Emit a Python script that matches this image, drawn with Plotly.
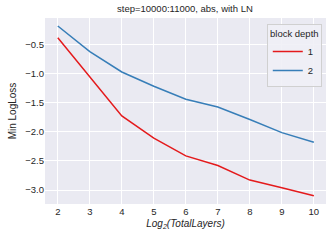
import plotly.graph_objects as go

x_vals = [2, 3, 4, 5, 6, 7, 8, 9, 10]
depth1 = [-0.387, -1.056, -1.73, -2.11, -2.415, -2.58, -2.83, -2.96, -3.10]
depth2 = [-0.186, -0.627, -0.975, -1.22, -1.443, -1.575, -1.79, -2.015, -2.18]
series_names = ["1", "2"]
colors = ["#e41a1c", "#377eb8"]

fig = go.Figure()
for name, ys, c in zip(series_names, [depth1, depth2], colors):
    fig.add_trace(go.Scatter(x=x_vals, y=ys, mode="lines", name=name,
                             line=dict(color=c, width=1.5)))

font = "Liberation Sans, Arial, sans-serif"
fig.update_layout(
    width=332, height=241,
    margin=dict(l=45, r=6, t=18, b=37, autoexpand=False),
    paper_bgcolor="white", plot_bgcolor="#eaeaf2",
    font=dict(family=font, size=9, color="#262626"),
    title=dict(text="step=10000:11000, abs, with LN", x=0.557, xanchor="center",
               y=0.962, yanchor="middle", font=dict(size=9.5, color="#262626")),
    showlegend=True,
    legend=dict(title=dict(text="block depth", side="top center", font=dict(size=9.5)),
                x=0.985, xanchor="right", y=0.97, yanchor="top",
                bgcolor="rgba(240,240,246,0.9)", bordercolor="#d0d0d0", borderwidth=1,
                font=dict(size=9.5), itemwidth=30, tracegroupgap=0),
    xaxis=dict(range=[1.6, 10.38], tickvals=x_vals, showgrid=True, gridcolor="white",
               gridwidth=1, zeroline=False, showline=False, ticks="", automargin=False,
               tickfont=dict(size=9.5),
               title=dict(text="<i>Log<sub>2</sub>(TotalLayers)</i>", standoff=4,
                          font=dict(size=10))),
    yaxis=dict(range=[-3.24, -0.049], tickvals=[-3.0, -2.5, -2.0, -1.5, -1.0, -0.5],
               ticktext=["\u22123.0", "\u22122.5", "\u22122.0", "\u22121.5", "\u22121.0", "\u22120.5"],
               showgrid=True, gridcolor="white", gridwidth=1, zeroline=False,
               showline=False, ticks="", automargin=False, tickfont=dict(size=9.5),
               title=dict(text="Min LogLoss", standoff=6, font=dict(size=10))),
)
fig.write_html("out.html", config={"displayModeBar": False},
               post_script="document.body.style.margin='0';")
